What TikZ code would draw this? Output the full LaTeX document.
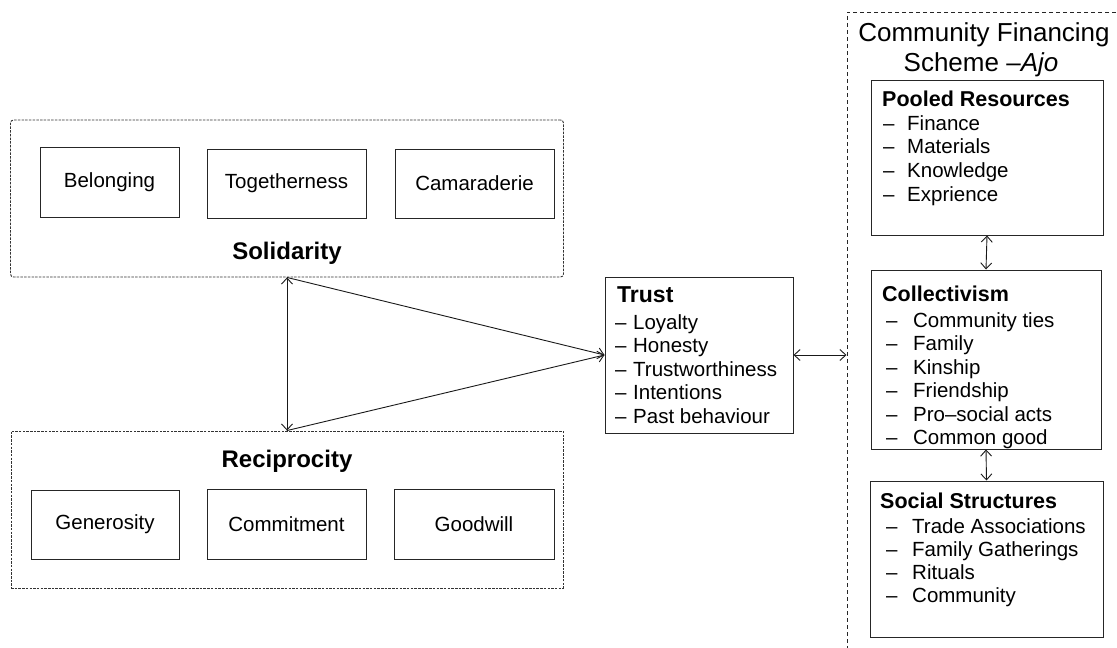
\documentclass[tikz,border=0pt]{standalone}
\usepackage{fontspec}
\setmainfont{Liberation Sans}
\usetikzlibrary{arrows.meta}
\begin{document}
\begin{tikzpicture}[x=1pt,y=-1pt,
  box/.style={draw=black!85, line width=1pt, inner sep=0pt, font=\fontsize{20.5}{24}\selectfont},
  solbox/.style={draw=black!80, line width=0.9pt, dash pattern=on 2.5pt off 1.2pt, inner sep=0pt},
  outerbox/.style={draw=black!85, line width=1pt, dash pattern=on 4pt off 3pt, inner sep=0pt},
  grouptitle/.style={font=\fontsize{24}{28}\selectfont\bfseries, inner sep=0pt},
  maintitle/.style={font=\fontsize{26}{30}\selectfont, inner sep=0pt, anchor=base},
  boxtitle/.style={font=\fontsize{21.5}{26}\selectfont\bfseries, inner sep=0pt, anchor=base west},
  item/.style={font=\fontsize{20.5}{24}\selectfont, inner sep=0pt, anchor=base west},
  link/.style={line width=0.9pt, draw=black!90},
  tip/.style={-{Straight Barb[length=6pt,width=11pt]}},
  tips/.style={{Straight Barb[length=6pt,width=11pt]}-{Straight Barb[length=6pt,width=11pt]}}
]
\clip (0,0) rectangle (1117,648);

% Solidarity group
\node[solbox, rounded corners=3pt, minimum width=553pt, minimum height=157pt] (sol) at (287,198.5) {};
\node[box, minimum width=139pt, minimum height=70pt] (belonging) at (109.5,182) {Belonging};
\node[box, minimum width=159pt, minimum height=69pt] (together) at (286.5,183.5) {Togetherness};
\node[box, minimum width=159pt, minimum height=69pt] (camar) at (474.5,183.5) {Camaraderie};
\node[grouptitle] (solt) at (287,253) {Solidarity};

% Reciprocity group
\node[solbox, minimum width=552pt, minimum height=157pt] (rec) at (287,509.5) {};
\node[grouptitle] (rect) at (287,461) {Reciprocity};
\node[box, minimum width=148pt, minimum height=69pt] (generosity) at (105,524.5) {Generosity};
\node[box, minimum width=159pt, minimum height=70pt] (commitment) at (286.5,524) {Commitment};
\node[box, minimum width=160pt, minimum height=70pt] (goodwill) at (474,524) {Goodwill};

% Trust
\node[box, minimum width=188pt, minimum height=156pt] (trust) at (699,355) {};
\node[boxtitle, font=\fontsize{23}{27}\selectfont\bfseries] (trustt) at (617,302) {Trust};
\foreach \t [count=\i from 0] in {Loyalty, Honesty, Trustworthiness, Intentions, Past behaviour} {
  \node[item] (tr\i) at (615,{329+23.5*\i}) {\makebox[18pt][l]{–}\t};
}

% Community financing scheme
\node[outerbox, minimum width=278pt, minimum height=686pt] (outer) at (986,355) {};
\node[maintitle] (ct1) at (984,41) {Community Financing};
\node[maintitle] (ct2) at (981,71) {Scheme –\textit{Ajo}};

\node[box, minimum width=232pt, minimum height=155pt] (pooled) at (987,157.5) {};
\node[boxtitle] (pooledt) at (882,106) {Pooled Resources};
\foreach \t [count=\i from 0] in {Finance, Materials, Knowledge, Exprience} {
  \node[item] (pr\i) at (883,{130+23.7*\i}) {\makebox[24pt][l]{–}\t};
}

\node[box, minimum width=230pt, minimum height=179pt] (coll) at (986,359.5) {};
\node[boxtitle] (collt) at (882,301) {Collectivism};
\foreach \t [count=\i from 0] in {Community ties, Family, Kinship, Friendship, Pro–social acts, Common good} {
  \node[item] (co\i) at (886,{327+23.5*\i}) {\makebox[27pt][l]{–}\t};
}

\node[box, minimum width=233pt, minimum height=156pt] (social) at (986.5,559) {};
\node[boxtitle] (socialt) at (880,508) {Social Structures};
\foreach \t [count=\i from 0] in {Trade Associations, Family Gatherings, Rituals, Community} {
  \node[item] (so\i) at (886,{533+23.3*\i}) {\makebox[26pt][l]{–}\t};
}

% connectors
\draw[link,tips] (sol.south) -- (rec.north);
\draw[link,tip] (sol.south) -- (trust.west);
\draw[link,tip] (rec.north) -- (trust.west);
\draw[link,tips] (trust.east) -- (outer.west);
\draw[link,tips] (pooled.south) -- (coll.north);
\draw[link,tips] (coll.south) -- (social.north);
\end{tikzpicture}
\end{document}
